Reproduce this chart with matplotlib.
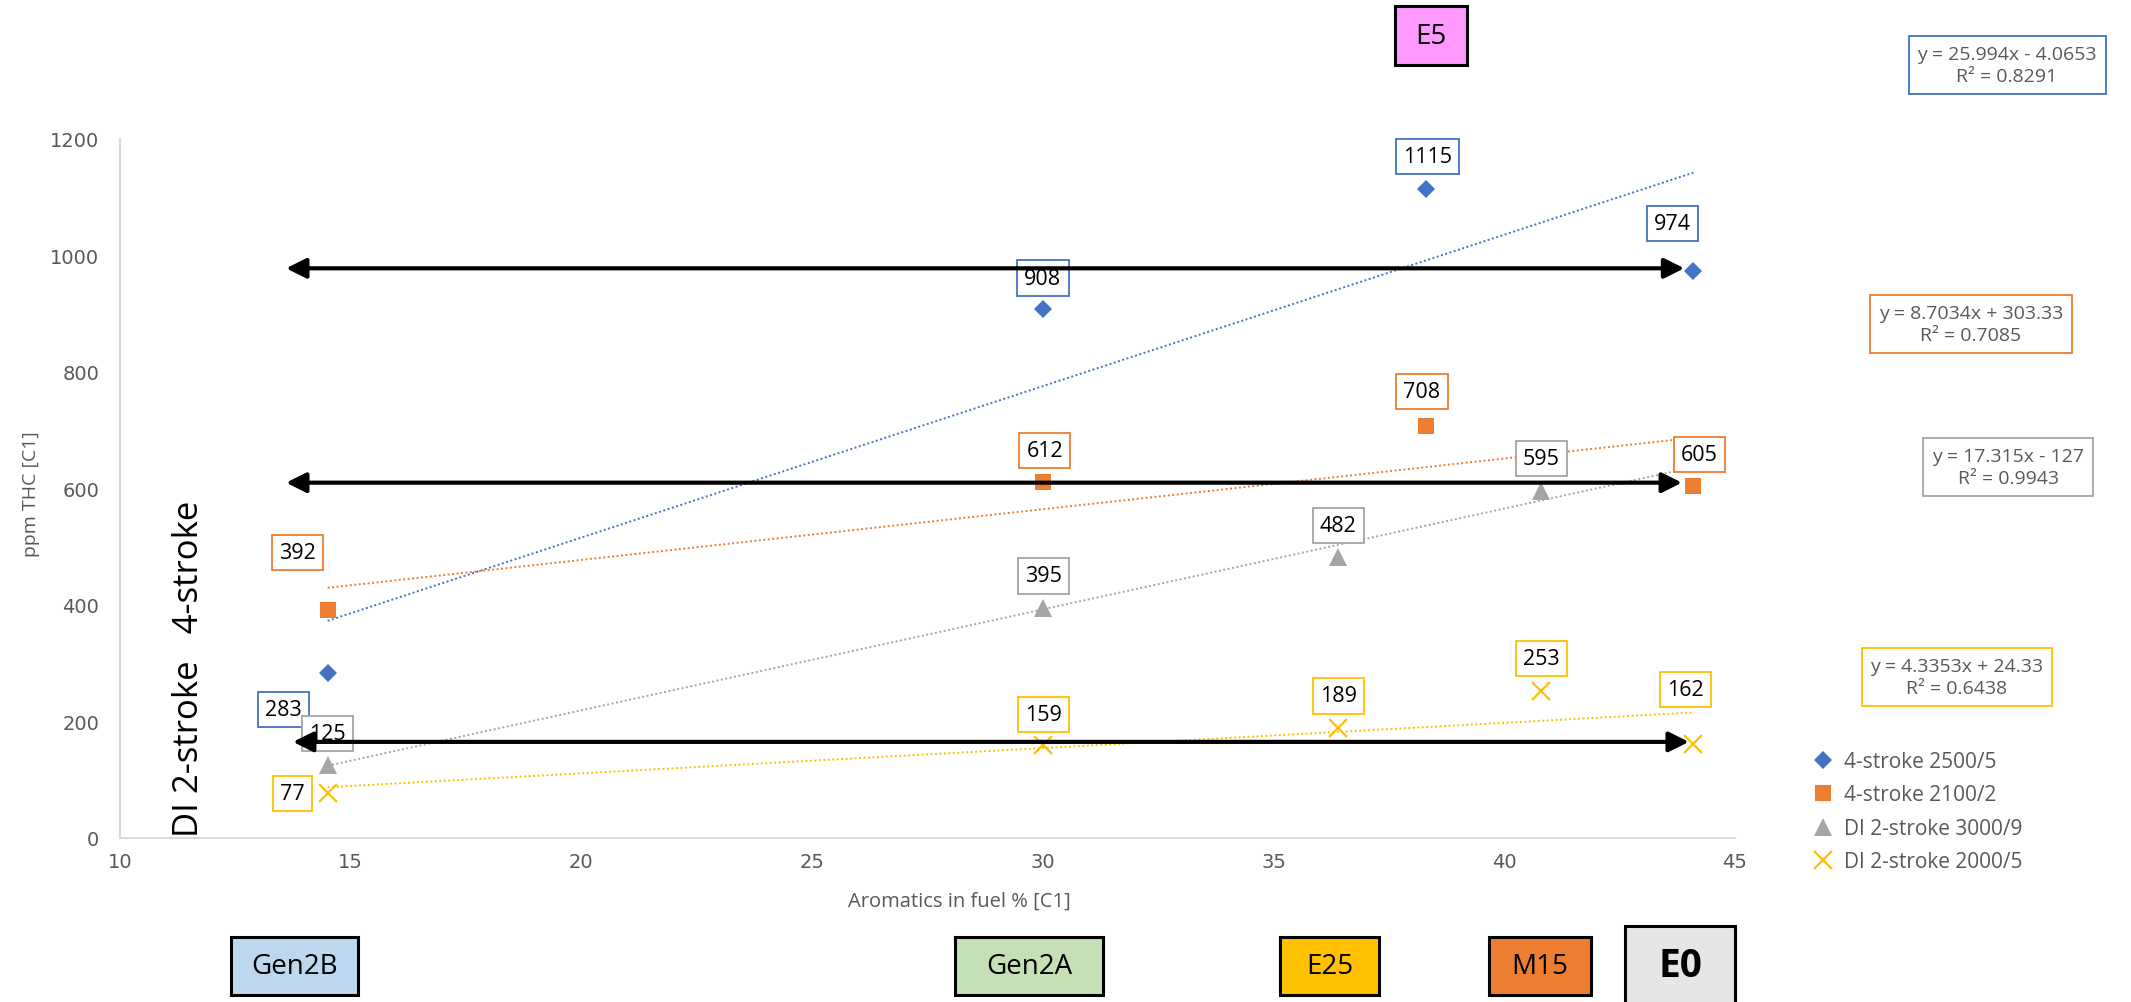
import matplotlib
matplotlib.use("Agg")
import matplotlib.pyplot as plt
from matplotlib.patches import Rectangle
import numpy as np

plt.rcParams["font.family"] = ["Open Sans", "DejaVu Sans"]

W, H = 2131, 1003

# aromatics in fuel [% C1] and THC [ppm C1] per engine / operating point
arom_4s = [14.5, 30.0, 38.3, 44.1]
thc_4s_2500 = [283, 908, 1115, 974]
thc_4s_2100 = [392, 612, 708, 605]
arom_2s_3000 = [14.5, 30.0, 36.4, 40.8]
thc_2s_3000 = [125, 395, 482, 595]
arom_2s_2000 = [14.5, 30.0, 36.4, 40.8, 44.1]
thc_2s_2000 = [77, 159, 189, 253, 162]

series_names = ["4-stroke 2500/5", "4-stroke 2100/2",
                "DI 2-stroke 3000/9", "DI 2-stroke 2000/5"]

# linear trendlines (Excel fit results)
trend_slope = [25.994, 8.7034, 17.315, 4.3353]
trend_icept = [-4.0653, 303.33, -127, 24.33]
trend_r2 = [0.8291, 0.7085, 0.9943, 0.6438]
trend_from, trend_to = 14.5, 44.1

# THC bands marked with double arrows
band_levels = [978, 610, 165]
band_from = [13.6, 13.6, 13.75]
band_to = [43.9, 43.85, 44.0]

fuel_tags = ["Gen2B", "Gen2A", "E25", "M15", "E0", "E5"]

# ---- styling ----
colors = ["#4472C4", "#ED7D31", "#A5A5A5", "#FFC000"]
markers = ["D", "s", "^", "x"]
msizes = [9.2, 11.5, 13, 13]
tag_colors = ["#BDD7EE", "#C5E0B4", "#FFC000", "#ED7D31", "#E7E6E6", "#FF99FF"]
# x, y (top), width, height in pixels
tag_rects = [(231, 938, 127, 58), (955, 938, 148, 58), (1280, 938, 99, 58),
             (1489, 938, 102, 58), (1625, 927, 110, 95), (1395, 7, 72, 59)]
tag_text_y = [967, 967, 967, 967, 967, 37]

# data label offsets in pixels (dx, dy up)
label_offsets = [
    [(-44, -36), (0, 31), (2, 32), (-21, 47)],
    [(-30, 57), (2, 31), (-4, 34), (6, 31)],
    [(0, 32), (1, 32), (0, 32), (0, 33)],
    [(-35, 0), (1, 31), (0, 32), (0, 32), (-8, 54)],
]
# equation box centers in pixels
eq_pos = [(2007, 66), (1971, 325), (2008, 468), (1957, 678)]

grey_txt = "#595959"

fig = plt.figure(figsize=(W / 100, H / 100), dpi=100)
ax = fig.add_axes([120 / W, 1 - 839 / H, (1735 - 120) / W, (839 - 140) / H])

xs = [arom_4s, arom_4s, arom_2s_3000, arom_2s_2000]
ys = [thc_4s_2500, thc_4s_2100, thc_2s_3000, thc_2s_2000]

handles = []
for i in range(4):
    if markers[i] == "x":
        h, = ax.plot(xs[i], ys[i], ls="none", marker="x", ms=msizes[i],
                     mew=1.6, color=colors[i], zorder=4)
    else:
        h, = ax.plot(xs[i], ys[i], ls="none", marker=markers[i], ms=msizes[i],
                     mew=0, color=colors[i], zorder=4)
    handles.append(h)

    tx = np.array([trend_from, trend_to])
    ax.plot(tx, trend_slope[i] * tx + trend_icept[i], ls=(0, (1, 1.3)),
            lw=1.4, color=colors[i], zorder=2)

    for (x, y), (dx, dy) in zip(zip(xs[i], ys[i]), label_offsets[i]):
        ax.annotate(str(y), (x, y), xytext=(dx, dy), textcoords="offset pixels",
                    ha="center", va="center", fontsize=15.5, color="black",
                    bbox=dict(boxstyle="square,pad=0.33", fc="white",
                              ec=colors[i], lw=1.3), zorder=5)

    sign = "-" if trend_icept[i] < 0 else "+"
    eq = f"y = {trend_slope[i]:g}x {sign} {abs(trend_icept[i]):g}\nR² = {trend_r2[i]:.4f}"
    fig.text(eq_pos[i][0] / W, 1 - eq_pos[i][1] / H, eq, ha="center", va="center",
             fontsize=14, color=grey_txt, linespacing=1.35, multialignment="center",
             bbox=dict(boxstyle="square,pad=0.45", fc="white", ec=colors[i], lw=1.3))

for lvl, x0, x1 in zip(band_levels, band_from, band_to):
    ax.annotate("", xy=(x1, lvl), xytext=(x0, lvl),
                arrowprops=dict(arrowstyle="<|-|>,head_length=0.6,head_width=0.3",
                                lw=3, color="black", mutation_scale=20,
                                shrinkA=0, shrinkB=0), zorder=6)

ax.set_xlim(10, 45)
ax.set_ylim(0, 1200)
ax.set_xticks(range(10, 46, 5))
ax.set_yticks(range(0, 1201, 200))
ax.tick_params(length=0, labelsize=14, labelcolor=grey_txt)
ax.tick_params(axis="x", pad=10)
ax.tick_params(axis="y", pad=15)
for lab in ax.get_xticklabels() + ax.get_yticklabels():
    lab.set_family("DejaVu Sans")
for s in ["top", "right"]:
    ax.spines[s].set_visible(False)
for s in ["left", "bottom"]:
    ax.spines[s].set_color("#D9D9D9")
    ax.spines[s].set_linewidth(1.5)

fig.text(959 / W, 1 - 902 / H, "Aromatics in fuel % [C1]", ha="center", va="center",
         fontsize=14.5, color=grey_txt)
fig.text(31 / W, 1 - 494 / H, "ppm THC [C1]", ha="center", va="center",
         rotation=90, fontsize=14, color=grey_txt)

fig.text(189 / W, 1 - 837 / H, "DI 2-stroke   4-stroke", rotation=90,
         ha="center", va="bottom", fontsize=25, color="black")

for tag, fc, (rx, ry, rw, rh), ty in zip(fuel_tags, tag_colors, tag_rects, tag_text_y):
    fig.add_artist(Rectangle((rx / W, 1 - (ry + rh) / H), rw / W, rh / H,
                             transform=fig.transFigure, fc=fc, ec="black", lw=2.2,
                             clip_on=False))
    bold = tag == "E0"
    fig.text((rx + rw / 2) / W, 1 - ty / H, tag, ha="center", va="center",
             fontsize=28 if bold else 20, fontweight="bold" if bold else "normal",
             color="black")

fig.legend(handles, series_names, loc="upper left",
           bbox_to_anchor=(1815 / W, 1 - 752 / H), frameon=False, fontsize=15,
           labelcolor=grey_txt, handlelength=0.8, handletextpad=0.6,
           labelspacing=0.6, borderaxespad=0, borderpad=0)

fig.savefig("out.png", dpi=100)
